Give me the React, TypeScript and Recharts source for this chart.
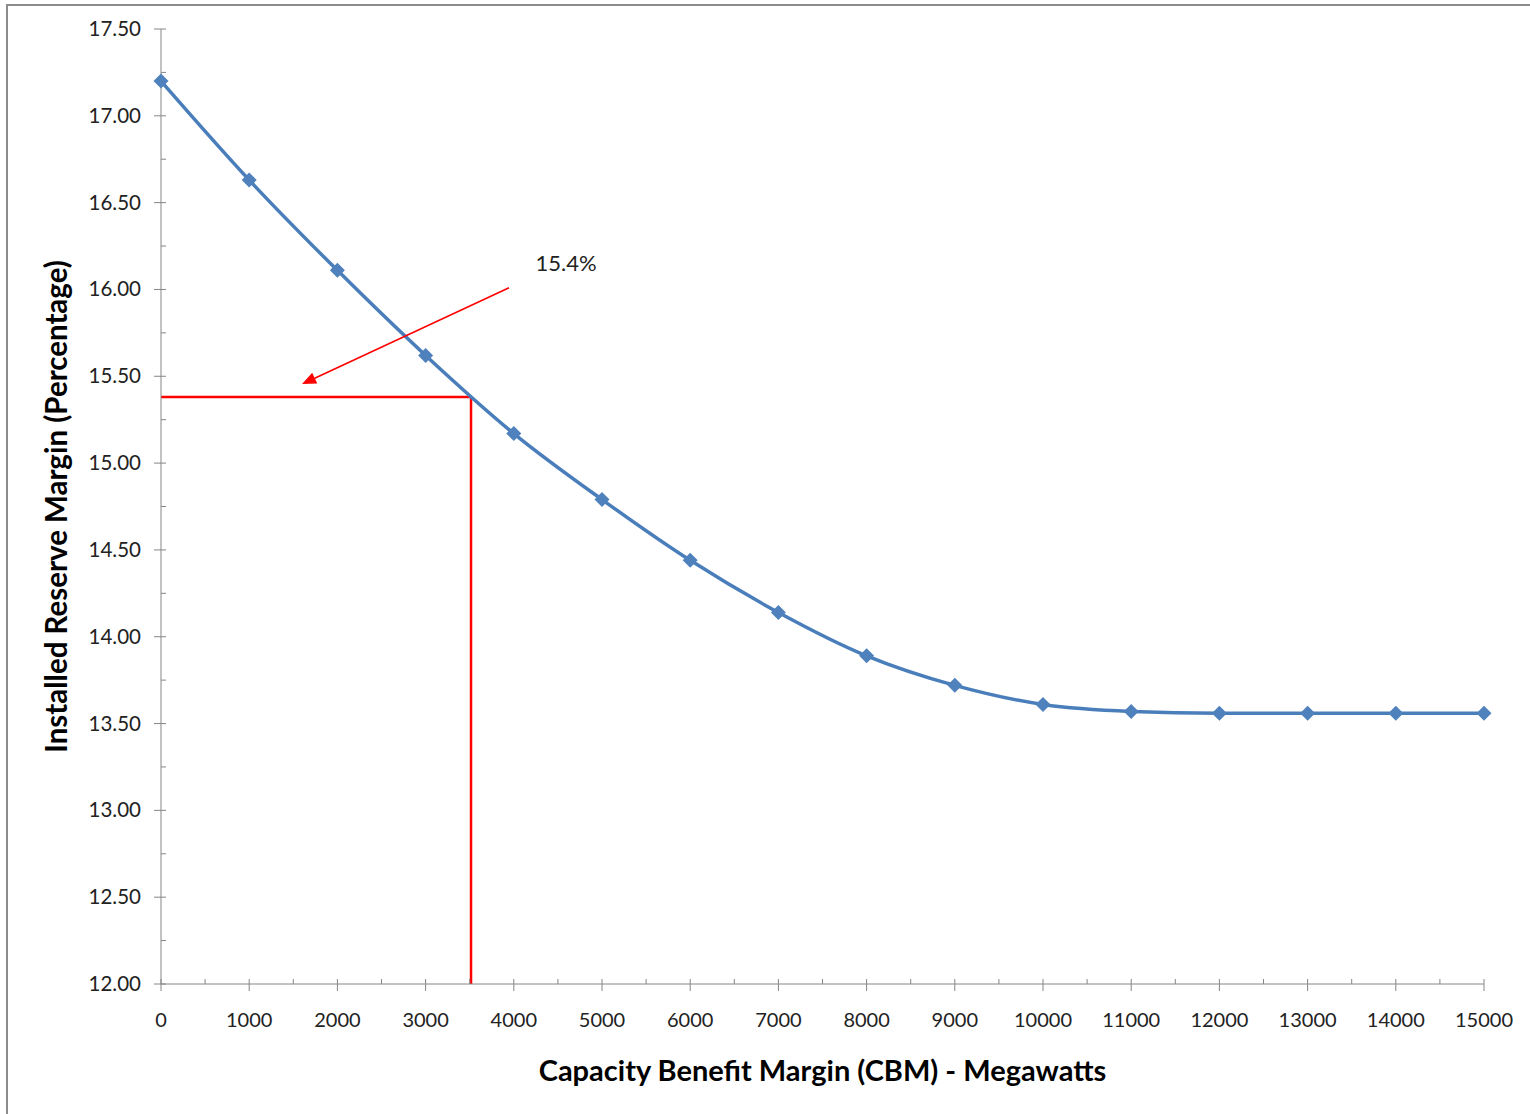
import React from 'react'
import { ComposedChart, Line, XAxis, YAxis, ReferenceLine, ReferenceDot, Label } from 'recharts'

// capacity benefit margin (MW) and resulting installed reserve margin (%)
const cbm = [0, 1000, 2000, 3000, 4000, 5000, 6000, 7000, 8000, 9000, 10000, 11000, 12000, 13000, 14000, 15000]
const reserveMargin = [17.2, 16.63, 16.11, 15.62, 15.17, 14.79, 14.44, 14.14, 13.89, 13.72, 13.61, 13.57, 13.56, 13.56, 13.56, 13.56]

const xTicks = [
  0, 500, 1000, 1500, 2000, 2500, 3000, 3500, 4000, 4500, 5000, 5500, 6000, 6500, 7000, 7500,
  8000, 8500, 9000, 9500, 10000, 10500, 11000, 11500, 12000, 12500, 13000, 13500, 14000, 14500, 15000,
]
const yTicks = [
  12, 12.25, 12.5, 12.75, 13, 13.25, 13.5, 13.75, 14, 14.25, 14.5, 14.75, 15, 15.25, 15.5, 15.75,
  16, 16.25, 16.5, 16.75, 17, 17.25, 17.5,
]

// red guide lines and callout
const targetCbm = 3515
const targetMargin = 15.38
const arrowFrom = { x: 3946, y: 16.01 }
const arrowTo = { x: 1599, y: 15.455 }
const callout = { x: 4592, y: 16.15, text: '15.4%' }

const data = cbm.map((x, i) => ({ x, y: reserveMargin[i] }))

const FONT = 'Lato, "Open Sans", sans-serif'
const AXIS = '#868686'
const TEXT = '#222'
const BLUE = '#4A7EBB'
const RED = '#FF0000'

const Diamond = (props: any) => {
  const { cx, cy, index } = props
  if (cx == null || cy == null) return null
  const r = 7.5
  return (
    <polygon
      key={index}
      points={`${cx},${cy - r} ${cx + r},${cy} ${cx},${cy + r} ${cx - r},${cy}`}
      fill="#4F81BD"
    />
  )
}

const YTick = (props: any) => {
  const { x, y, payload } = props
  const v = payload.value
  const major = Math.abs(v * 2 - Math.round(v * 2)) < 1e-6
  return (
    <g>
      <line x1={major ? x - 7 : x} x2={x + 5} y1={y} y2={y} stroke={AXIS} strokeWidth={1} />
      {major && (
        <text x={x - 20} y={y + 7} textAnchor="end" fontFamily={FONT} fontSize={20.5} fill={TEXT}>
          {v.toFixed(2)}
        </text>
      )}
    </g>
  )
}

const XTick = (props: any) => {
  const { x, y, payload } = props
  const v = payload.value
  const major = v % 1000 === 0
  return (
    <g>
      <line x1={x} x2={x} y1={major ? y + 7 : y} y2={y - 5} stroke={AXIS} strokeWidth={1} />
      {major && (
        <text x={x} y={y + 43} textAnchor="middle" fontFamily={FONT} fontSize={20} fill={TEXT}>
          {v}
        </text>
      )}
    </g>
  )
}

const Arrow = (props: any) => {
  const { x1, y1, x2, y2 } = props
  const dx = x2 - x1
  const dy = y2 - y1
  const len = Math.sqrt(dx * dx + dy * dy)
  const ux = dx / len
  const uy = dy / len
  const hl = 14
  const hw = 6
  const bx = x2 - ux * hl
  const by = y2 - uy * hl
  return (
    <g>
      <line x1={x1} y1={y1} x2={bx} y2={by} stroke={RED} strokeWidth={1.6} />
      <polygon
        points={`${x2},${y2} ${bx - uy * hw},${by + ux * hw} ${bx + uy * hw},${by - ux * hw}`}
        fill={RED}
      />
    </g>
  )
}

export default function App() {
  return (
    <div style={{ position: 'absolute', left: 0, top: 0, width: 1530, height: 1114, background: '#fff' }}>
      <div
        style={{
          position: 'absolute',
          left: 6,
          top: 4,
          width: 1524,
          height: 1110,
          borderTop: '2px solid #8c8c8c',
          borderLeft: '2px solid #8c8c8c',
        }}
      />
      <div style={{ position: 'absolute', left: 0, top: 0 }}>
        <ComposedChart width={1530} height={1114} data={data} margin={{ top: 29, right: 46, bottom: 0, left: 0 }}>
          <XAxis
            dataKey="x"
            type="number"
            domain={[0, 15000]}
            ticks={xTicks}
            interval={0}
            height={130}
            stroke={AXIS}
            tickLine={false}
            tickSize={0}
            tickMargin={0}
            tick={<XTick />}
          >
            <Label
              content={(p: any) => {
                const vb = p.viewBox
                return (
                  <text
                    x={vb.x + vb.width / 2}
                    y={vb.y + 97}
                    textAnchor="middle"
                    fontFamily={FONT}
                    fontWeight="bold"
                    fontSize={29}
                    fill="#000"
                  >
                    Capacity Benefit Margin (CBM) - Megawatts
                  </text>
                )
              }}
            />
          </XAxis>
          <YAxis
            type="number"
            domain={[12, 17.5]}
            ticks={yTicks}
            interval={0}
            width={161}
            stroke={AXIS}
            tickLine={false}
            tickSize={0}
            tickMargin={0}
            tick={<YTick />}
          >
            <Label
              content={(p: any) => {
                const vb = p.viewBox
                const cx = 55
                const cy = vb.y + vb.height / 2
                return (
                  <text
                    x={cx}
                    y={cy}
                    transform={`rotate(-90 ${cx} ${cy})`}
                    textAnchor="middle"
                    dominantBaseline="central"
                    fontFamily={FONT}
                    fontWeight="bold"
                    fontSize={29.5}
                    fill="#000"
                  >
                    Installed Reserve Margin (Percentage)
                  </text>
                )
              }}
            />
          </YAxis>
          <ReferenceLine
            segment={[
              { x: 0, y: targetMargin },
              { x: targetCbm, y: targetMargin },
            ]}
            stroke={RED}
            strokeWidth={2.5}
            ifOverflow="visible"
          />
          <ReferenceLine
            segment={[
              { x: targetCbm, y: targetMargin },
              { x: targetCbm, y: 12 },
            ]}
            stroke={RED}
            strokeWidth={2.5}
            ifOverflow="visible"
          />
          <Line
            dataKey="y"
            type="monotone"
            stroke={BLUE}
            strokeWidth={3.5}
            dot={Diamond}
            activeDot={false}
            isAnimationActive={false}
          />
          <ReferenceLine
            segment={[arrowFrom, arrowTo]}
            ifOverflow="visible"
            shape={(p: any) => <Arrow {...p} />}
          />
          <ReferenceDot
            x={callout.x}
            y={callout.y}
            r={0}
            stroke="none"
            fill="none"
            ifOverflow="visible"
            label={{ value: callout.text, position: 'center', fontFamily: FONT, fontSize: 22, fill: TEXT }}
          />
        </ComposedChart>
      </div>
    </div>
  )
}
